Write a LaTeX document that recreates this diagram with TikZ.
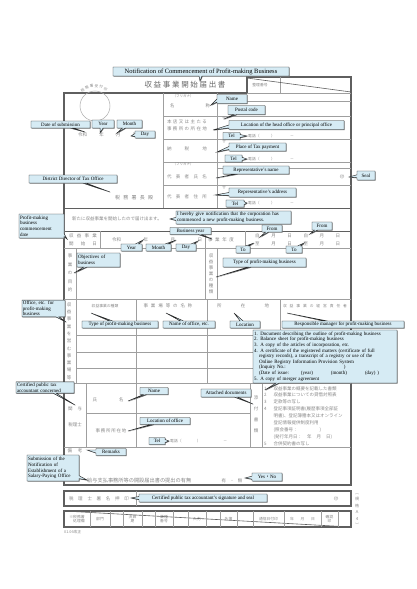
\documentclass[tikz,border=0pt]{standalone}
\usepackage{fontspec}
\setmainfont{Liberation Serif}
\newfontfamily\jp{Noto Sans CJK JP}
\usetikzlibrary{shapes.callouts,shadows}
\newlength{\du}
\setlength{\du}{1pt}
\definecolor{notefill}{RGB}{214,235,244}
\definecolor{formgray}{RGB}{135,135,135}
\definecolor{framegray}{RGB}{95,95,95}
\newcommand{\spreadtext}[2]{\makebox[#1][s]{#2}}

\begin{document}
\begin{tikzpicture}[x=1\du,y=-1\du,
  note/.style={rectangle callout,draw=black!85,fill=notefill,line width=0.45pt,inner sep=1pt,
    callout pointer width=3pt,minimum height=7pt,font=\fontsize{5}{5.6}\selectfont,
    drop shadow={shadow xshift=0.6pt,shadow yshift=-0.6pt,fill=black!55,opacity=1}},
  frameline/.style={draw=framegray,line width=1.1pt},
  formline/.style={draw=formgray!80,line width=0.45pt},
  formtext/.style={text=formgray,inner sep=0pt,font=\jp\fontsize{4.5}{5}\selectfont},
  smalltext/.style={formtext,font=\jp\fontsize{3.8}{4.4}\selectfont},
  vertext/.style={formtext,align=center}]
\useasboundingbox (0,0) rectangle (416,589);
% form frame
\draw[frameline] (64,93) -- (247,93) -- (247,77) -- (351,77) -- (351,485) -- (64,485) -- cycle;
\draw[formline] (247,93) -- (351,93) (280,77) -- (280,93);
\draw[draw=framegray,line width=0.6pt] (247,78) -- (351,92);
\draw[draw=formgray!70,line width=0.5pt] (95,106) circle (15);
% applicant rows
\draw[formline] (163,93) -- (163,208) (217,93) -- (217,208);
\draw[formline] (217,101) -- (351,101) (163,116) -- (351,116) (163,139) -- (351,139)
  (163,162) -- (351,162) (217,168) -- (351,168) (163,185) -- (351,185);
\draw[frameline,line width=0.7pt] (64,208) -- (351,208) (64,231) -- (351,231);
% dates, purpose
\draw[formline] (64,248) -- (351,248) (100,231) -- (100,248) (205,231) -- (205,299) (245,231) -- (245,248)
  (76,248) -- (76,299) (217,248) -- (217,299) (64,299) -- (351,299);
% offices
\draw[formline] (76,299) -- (76,383) (136,299) -- (136,383) (207,299) -- (207,383) (280,299) -- (280,383)
  (76,335) -- (351,335) (76,352) -- (351,352) (76,368) -- (351,368);
% tax accountant
\draw[formline] (64,383) -- (351,383) (86,383) -- (86,447) (136,383) -- (136,447) (86,413) -- (250,413)
  (250,383) -- (250,447) (262,383) -- (262,447) (64,447) -- (351,447);
% signature, office use
\draw[frameline] (64,491) rectangle (351,506);
\draw[formline] (136,491) -- (136,506);
\draw[frameline] (64,511) rectangle (351,527);
\draw[draw=framegray,line width=0.6pt] (64,511) -- (351,527);
\foreach \xx in {90,110,123,142,155,173,188,206,220,237,253,284,321,338}
  \draw[formline] (\xx,511) -- (\xx,527);

% form texts
\foreach \ch [count=\i] in {税,務,署,受,付,印}
  \node[formtext,font=\jp\fontsize{3.5}{4}\selectfont,rotate={52-14*\i}] (stamp\i) at ([shift={({-(142-14*\i)}:20)}]95,106) {\ch};
\node[formtext,text=black!60,font=\jp\fontsize{7.5}{8}\selectfont] (formTitle) at (185,85) {収 益 事 業 開 始 届 出 書};
\node[smalltext] (refNo) at (260,85) {整理番号};
\node[formtext,anchor=west] (subDate) at (78,135) {\spreadtext{59pt}{令和 年 月 日}};
\node[formtext,font=\jp\fontsize{5}{6}\selectfont] (director) at (134,198) {\spreadtext{38pt}{税 務 署 長 殿}};
\node[formtext,font=\jp\fontsize{3.5}{4}\selectfont] (kanaA) at (183,96) {（フリガナ）};
\node[formtext] (corpName) at (190,106) {\spreadtext{40pt}{名 称}};
\node[formtext] (headOfficeA) at (187,122) {\spreadtext{40pt}{本 店 又 は 主 た る}};
\node[formtext] (headOfficeB) at (187,129) {\spreadtext{40pt}{事 務 所 の 所 在 地}};
\node[formtext] (zipA) at (224,119) {〒};
\node[smalltext,anchor=west] (telA) at (248,136) {電話（　　　）　　　　－};
\node[formtext] (taxPlace) at (187,149) {\spreadtext{40pt}{納 税 地}};
\node[formtext] (zipB) at (224,142) {〒};
\node[smalltext,anchor=west] (telB) at (248,159) {電話（　　　）　　　　－};
\node[formtext,font=\jp\fontsize{3.5}{4}\selectfont] (kanaB) at (183,164) {（フリガナ）};
\node[formtext] (repName) at (187,177) {\spreadtext{40pt}{代 表 者 氏 名}};
\node[formtext] (sealA) at (342,177) {㊞};
\node[formtext] (repAddr) at (187,197) {\spreadtext{40pt}{代 表 者 住 所}};
\node[formtext] (zipC) at (224,188) {〒};
\node[smalltext,anchor=west] (telC) at (248,203) {電話（　　　）　　　　－};
\node[formtext,anchor=west] (declare) at (72,219) {新たに収益事業を開始したので届け出ます。};
\node[formtext] (startA) at (83,236) {\spreadtext{28pt}{収 益 事 業}};
\node[formtext] (startB) at (83,244) {\spreadtext{28pt}{開 始 日}};
\node[formtext,anchor=west] (startDate) at (112,240) {\spreadtext{90pt}{令和 年 月 日}};
\node[formtext] (bizYear) at (221,240) {\spreadtext{26pt}{事 業 年 度}};
\node[formtext,anchor=west] (fromRow) at (255,236) {\spreadtext{85pt}{自 月 日 自 月 日}};
\node[formtext,anchor=west] (toRow) at (255,244) {\spreadtext{85pt}{至 月 日 至 月 日}};
\node[vertext,font=\jp\fontsize{4.5}{8.5}\selectfont] (purpose) at (70,273) {事\\業\\の\\目\\的};
\node[vertext,font=\jp\fontsize{4.5}{6}\selectfont] (bizKind) at (211,274) {収\\益\\事\\業\\の\\種\\類};
\node[smalltext] (hdKind) at (105,306) {収益事業の種類};
\node[formtext] (hdName) at (168,306) {\spreadtext{49pt}{事 業 場 等 の 名 称}};
\node[formtext] (hdPlace) at (243,306) {\spreadtext{52pt}{所 在 地}};
\node[smalltext] (hdManager) at (315,306) {\spreadtext{64pt}{収 益 事 業 の 経 営 責 任 者}};
\node[vertext,font=\jp\fontsize{4.5}{7.3}\selectfont] (officeLbl) at (69,341) {収\\益\\事\\業\\を\\営\\む\\事\\業\\場\\等};
\node[formtext] (accA) at (75,409) {\spreadtext{14pt}{関 与}};
\node[formtext] (accB) at (75,425) {税理士};
\node[formtext] (accName) at (108,400) {\spreadtext{31pt}{氏 名}};
\node[formtext] (accOffice) at (111,431) {\spreadtext{31pt}{事 務 所 所 在 地}};
\node[smalltext,anchor=west] (telD) at (170,441) {電話（　　　　）　　　　　　－};
\node[vertext,font=\jp\fontsize{4.5}{11}\selectfont] (attachLbl) at (256,414) {添\\付\\書\\類};
\node[formtext,anchor=north west,font=\jp\fontsize{4.5}{6.9}\selectfont] (attachList) at (264,385)
  {\begin{tabular}{@{}l@{\hspace{7pt}}l@{}}
   1 & 収益事業の概要を記載した書類\\
   2 & 収益事業についての貸借対照表\\
   3 & 定款等の写し\\
   4 & 登記事項証明書(履歴事項全部証\\
     & 明書)、登記簿謄本又はオンライン\\
     & 登記情報提供制度利用\\
     & (照会番号：\hspace{22pt})\\
     & (発行年月日：\hspace{5pt}年\hspace{5pt}月\hspace{5pt}日)\\
   5 & 合併契約書の写し
   \end{tabular}};
\node[formtext] (remarks) at (75,451) {\spreadtext{15pt}{備 考}};
\node[formtext,anchor=west,font=\jp\fontsize{5.2}{6}\selectfont] (salary) at (87,481) {給与支払事務所等の開設届出書の提出の有無};
\node[formtext] (yesNo) at (232,481) {\spreadtext{21pt}{有 ・ 無}};
\node[formtext] (signLbl) at (99,499) {\spreadtext{60pt}{税 理 士 署 名 押 印}};
\node[formtext] (sealB) at (336,499) {㊞};
\node[smalltext,align=right] (useA) at (77,519) {※税務署\\処理欄};
\node[smalltext] (useB) at (100,519) {部門};
\node[smalltext,align=center] (useC) at (132.5,519) {決算\\期};
\node[smalltext,align=center] (useD) at (164,519) {業種\\番号};
\node[smalltext] (useE) at (197,519) {入力};
\node[smalltext] (useF) at (228.5,519) {名簿};
\node[smalltext] (useG) at (268.5,519) {通信日付印};
\node[smalltext] (useH) at (302.5,519) {\spreadtext{25pt}{年 月 日}};
\node[smalltext,align=center] (useI) at (329.5,519) {確認\\印};
\node[smalltext,anchor=west] (revised) at (64,532) {01.06改正};
\node[vertext,font=\jp\fontsize{4}{6.5}\selectfont] (paper) at (357,510) {︵\\規\\格\\Ａ\\４\\︶};

% callouts
\coordinate (pTitle) at (200,81);
\coordinate (pName) at (211,105);
\coordinate (pPostal) at (224,119);
\coordinate (pHead) at (213,130);
\coordinate (pTelA) at (247,136);
\coordinate (pPlace) at (217,152);
\coordinate (pTelB) at (247,159);
\coordinate (pRepName) at (216,178);
\coordinate (pSeal) at (349,177);
\coordinate (pRepAddr) at (215,195);
\coordinate (pTelC) at (247,203);
\coordinate (pSubmit) at (85,132);
\coordinate (pYearA) at (100,133);
\coordinate (pMonthA) at (117,133);
\coordinate (pDayA) at (131,136);
\coordinate (pDistrict) at (110,192);
\coordinate (pCommence) at (67,239);
\coordinate (pHereby) at (170,219);
\coordinate (pBizYear) at (212,239);
\coordinate (pFromA) at (260,237);
\coordinate (pFromB) at (310,234);
\coordinate (pYearB) at (143,240);
\coordinate (pMonthB) at (176,240);
\coordinate (pDayB) at (198,241);
\coordinate (pToA) at (254,243);
\coordinate (pToB) at (304,243);
\coordinate (pObject) at (74,273);
\coordinate (pTypeA) at (216,277);
\coordinate (pOffice) at (66,322);
\coordinate (pTypeB) at (91,313);
\coordinate (pOfficeName) at (166,313);
\coordinate (pLocation) at (234,313);
\coordinate (pManager) at (287,313);
\coordinate (pAttachList) at (265,390);
\coordinate (pAccountant) at (75,405);
\coordinate (pNameB) at (128,401);
\coordinate (pAttached) at (253,404);
\coordinate (pOfficeLoc) at (128,431);
\coordinate (pTelD) at (169,441);
\coordinate (pRemarks) at (87,450);
\coordinate (pSalary) at (87,480);
\coordinate (pYesNo) at (245,478);
\coordinate (pSignature) at (131,498);

\node[note,font=\fontsize{6.5}{7}\selectfont,minimum width=176pt,minimum height=9pt,callout absolute pointer={(pTitle)}] (cTitle) at (201,71.5) {Notification of Commencement of Profit-making Business};
\node[note,minimum width=30pt,minimum height=9pt,callout absolute pointer={(pName)}] (cName) at (232,99) {Name};
\node[note,minimum width=37pt,minimum height=9pt,callout absolute pointer={(pPostal)}] (cPostal) at (246.5,110) {Postal code};
\node[note,minimum width=115pt,minimum height=9pt,callout absolute pointer={(pHead)}] (cHead) at (286.5,125) {Location of the head office or principal office};
\node[note,minimum width=17pt,callout absolute pointer={(pTelA)}] (cTelA) at (231.5,136) {Tel};
\node[note,minimum width=57pt,minimum height=8pt,callout absolute pointer={(pPlace)}] (cPlace) at (257.5,147) {Place of Tax payment};
\node[note,minimum width=17pt,callout absolute pointer={(pTelB)}] (cTelB) at (233.5,158.5) {Tel};
\node[note,minimum width=66pt,minimum height=8pt,callout absolute pointer={(pRepName)}] (cRepName) at (256,170) {Representative's name};
\node[note,minimum width=18pt,minimum height=9pt,callout absolute pointer={(pSeal)}] (cSeal) at (366,175.5) {Seal};
\node[note,minimum width=67pt,minimum height=9pt,callout absolute pointer={(pRepAddr)}] (cRepAddr) at (262.5,192.5) {Representative's address};
\node[note,minimum width=18pt,callout absolute pointer={(pTelC)}] (cTelC) at (235,203.5) {Tel};
\node[note,minimum width=59pt,callout absolute pointer={(pSubmit)}] (cSubmit) at (60.5,124.5) {Date of submission};
\node[note,minimum width=22pt,minimum height=8pt,callout absolute pointer={(pYearA)}] (cYearA) at (103,124) {Year};
\node[note,minimum width=25pt,minimum height=8pt,callout absolute pointer={(pMonthA)}] (cMonthA) at (129.5,124) {Month};
\node[note,minimum width=20pt,callout absolute pointer={(pDayA)}] (cDayA) at (145,134.5) {Day};
\node[note,minimum width=88pt,minimum height=8pt,callout absolute pointer={(pDistrict)}] (cDistrict) at (73,179) {District Director of Tax Office};
\node[note,text width=43pt,align=left,minimum height=24pt,callout absolute pointer={(pCommence)}] (cCommence) at (41.5,226) {Profit-making\\business\\commencement\\date};
\node[note,text width=113pt,align=left,minimum height=13pt,callout absolute pointer={(pHereby)}] (cHereby) at (233.5,217.5) {I hereby give notification that the corporation has\\commenced a new profit-making business.};
\node[note,minimum width=41pt,callout absolute pointer={(pBizYear)}] (cBizYear) at (190.5,231) {Business year};
\node[note,minimum width=20pt,callout absolute pointer={(pFromA)}] (cFromA) at (272,228.5) {From};
\node[note,minimum width=20pt,minimum height=8pt,callout absolute pointer={(pFromB)}] (cFromB) at (322,226) {From};
\node[note,minimum width=21pt,callout absolute pointer={(pYearB)}] (cYearB) at (131.5,247.5) {Year};
\node[note,minimum width=25pt,callout absolute pointer={(pMonthB)}] (cMonthB) at (158.5,247.5) {Month};
\node[note,minimum width=20pt,callout absolute pointer={(pDayB)}] (cDayB) at (186,247.5) {Day};
\node[note,minimum width=14pt,callout absolute pointer={(pToA)}] (cToA) at (243,249.5) {To};
\node[note,minimum width=16pt,callout absolute pointer={(pToB)}] (cToB) at (294,249.5) {To};
\node[note,text width=41pt,align=left,minimum height=14pt,callout absolute pointer={(pObject)}] (cObject) at (98.5,260) {Objectives of\\business};
\node[note,minimum width=83pt,minimum height=9pt,callout absolute pointer={(pTypeA)}] (cTypeA) at (264.5,262.5) {Type of profit-making business};
\node[note,text width=41pt,align=left,minimum height=14pt,callout absolute pointer={(pOffice)}] (cOffice) at (43.5,308.5) {Office, etc. for\\profit-making\\business};
\node[note,minimum width=76pt,callout absolute pointer={(pTypeB)}] (cTypeB) at (120,324.5) {Type of profit-making business};
\node[note,minimum width=52pt,callout absolute pointer={(pOfficeName)}] (cOfficeName) at (189,324.5) {Name of office, etc.};
\node[note,minimum width=30pt,callout absolute pointer={(pLocation)}] (cLocation) at (245,324.5) {Location};
\node[note,minimum width=122pt,callout absolute pointer={(pManager)}] (cManager) at (343,324.5) {Responsible manager for profit-making business};
\node[note,text width=142pt,align=left,minimum height=53pt,callout absolute pointer={(pAttachList)}] (cAttachList) at (325,356.5)
  {1. Document describing the outline of profit-making business\\
   2. Balance sheet for profit-making business\\
   3. A copy of the articles of incorporation, etc.\\
   4. A certificate of the registered matters (certificate of full\\
   \hspace*{5pt}registry records), a transcript of a registry or use of the\\
   \hspace*{5pt}Online Registry Information Provision System\\
   \hspace*{5pt}(Inquiry No.:\hspace{58pt})\\
   \hspace*{5pt}(Date of issue:\hspace{12pt}(year)\hspace{18pt}(month)\hspace{18pt}(day) )\\
   5. A copy of merger agreement};
\node[note,text width=56pt,align=left,minimum height=11pt,callout absolute pointer={(pAccountant)}] (cAccountant) at (45,387.5) {Certified public tax\\accountant concerned};
\node[note,minimum width=28pt,callout absolute pointer={(pNameB)}] (cNameB) at (154,391) {Name};
\node[note,minimum width=50pt,minimum height=8pt,callout absolute pointer={(pAttached)}] (cAttached) at (226,393) {Attached documents};
\node[note,minimum width=50pt,callout absolute pointer={(pOfficeLoc)}] (cOfficeLoc) at (165,421) {Location of office};
\node[note,minimum width=16pt,callout absolute pointer={(pTelD)}] (cTelD) at (157,441) {Tel};
\node[note,minimum width=30pt,callout absolute pointer={(pRemarks)}] (cRemarks) at (111,452) {Remarks};
\node[note,text width=50pt,align=left,minimum height=26pt,callout absolute pointer={(pSalary)}] (cSalary) at (53,468) {Submission of the\\Notification of\\Establishment of a\\Salary-Paying Office};
\node[note,minimum width=30pt,minimum height=8pt,callout absolute pointer={(pYesNo)}] (cYesNo) at (267,477) {Yes{\jp ・}No};
\node[note,minimum width=128pt,minimum height=8pt,callout absolute pointer={(pSignature)}] (cSignature) at (203,498) {Certified public tax accountant's signature and seal};
\end{tikzpicture}
\end{document}
